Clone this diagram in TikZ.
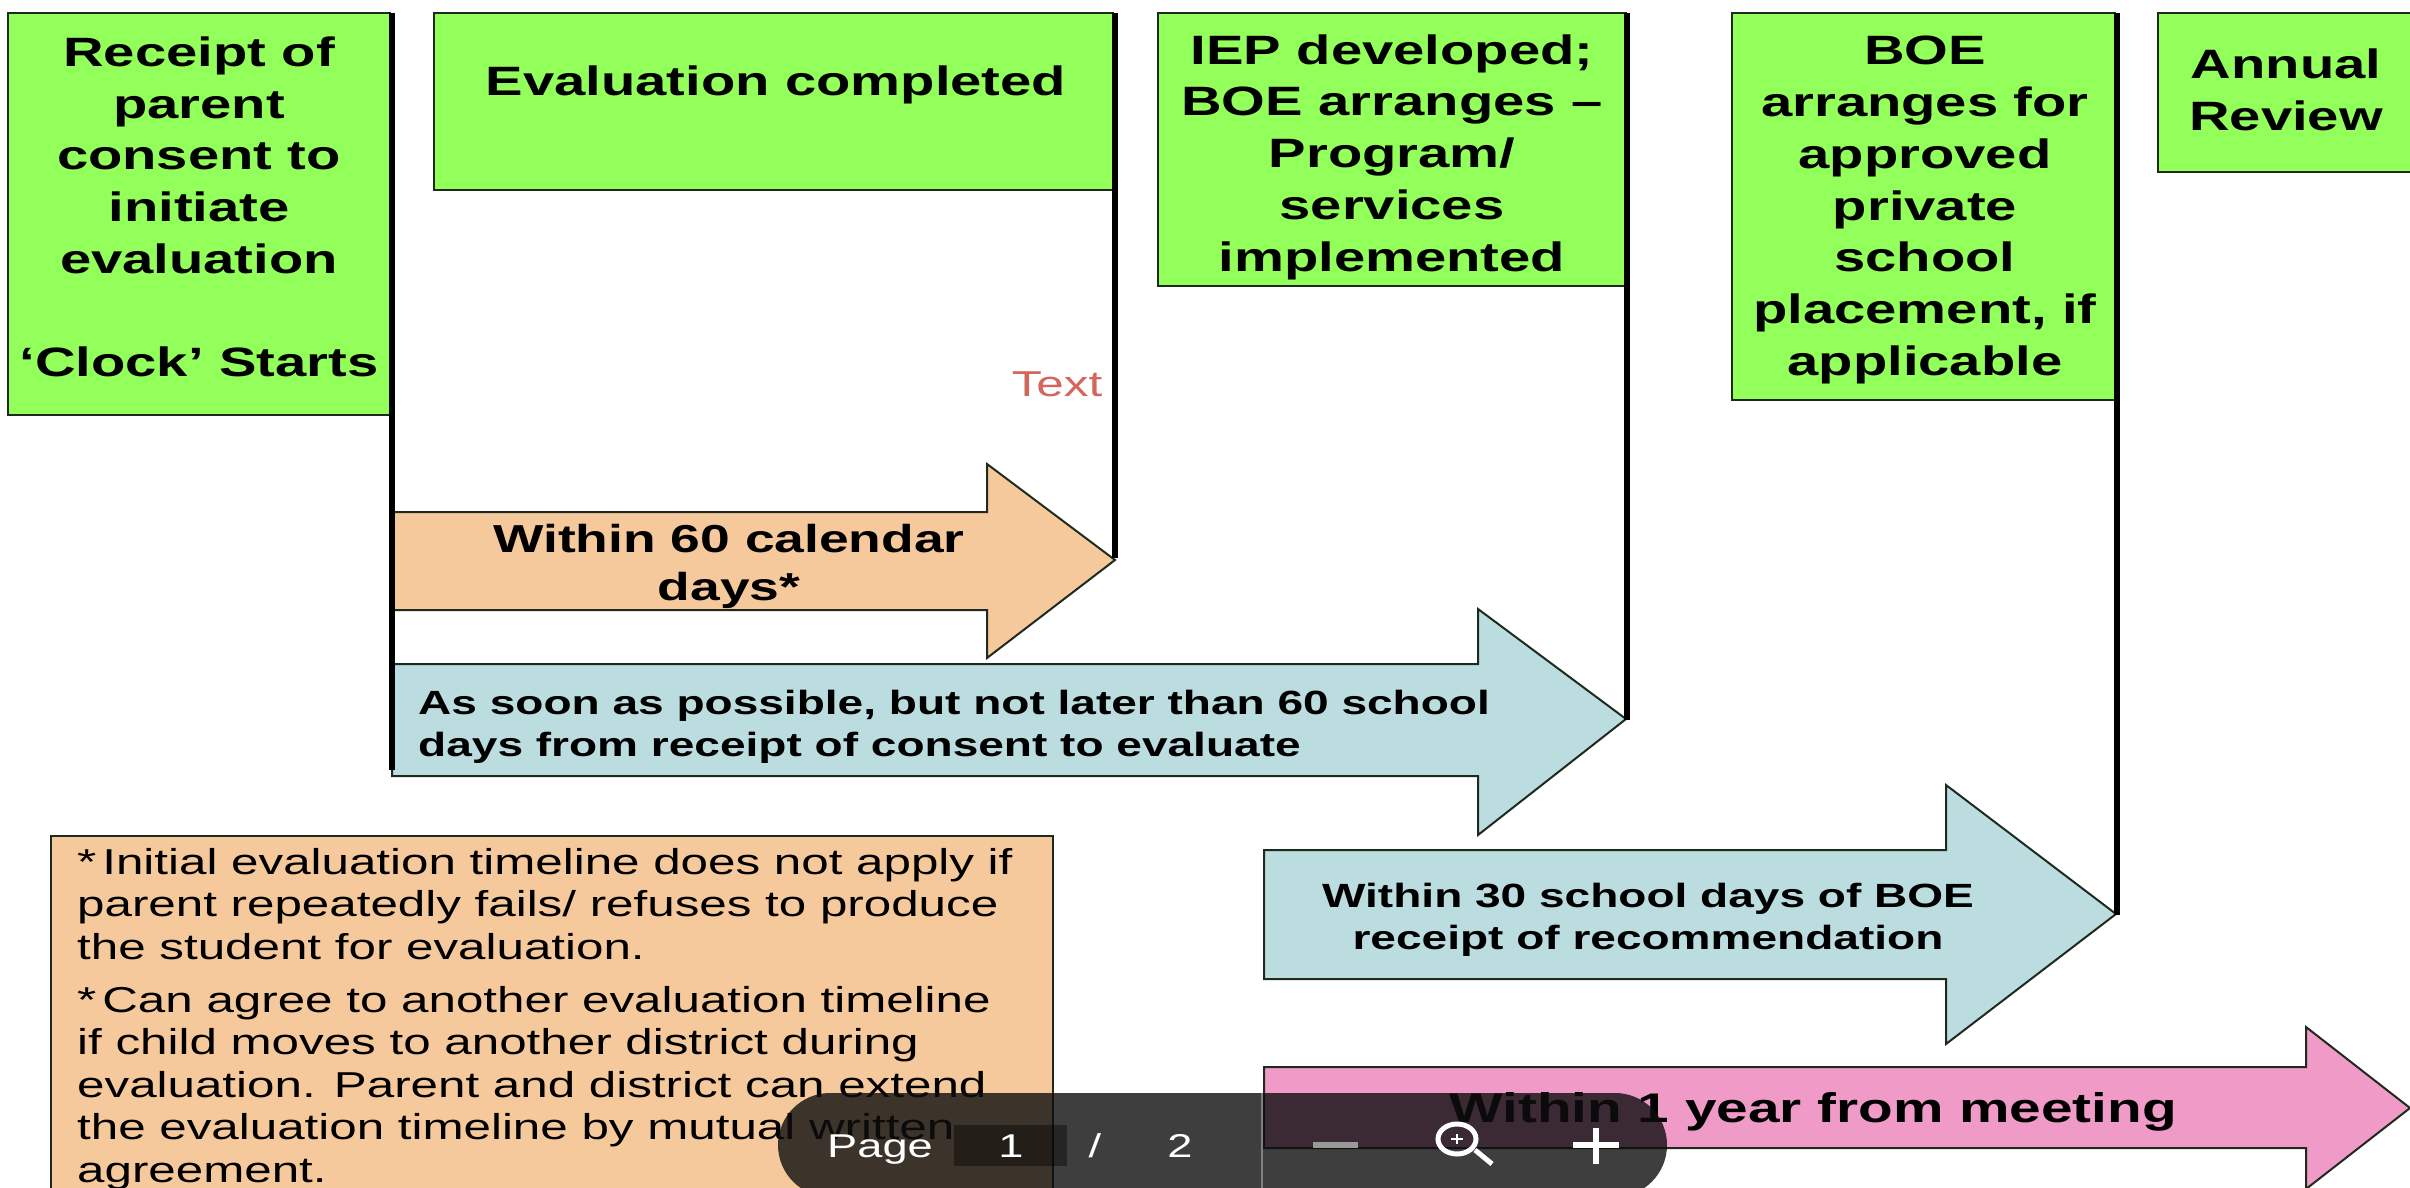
\documentclass[tikz,border=0pt]{standalone}
\usepackage{fontspec}
\setmainfont{Liberation Sans}
\newfontfamily\wideb[FakeStretch=1.37,BoldFont={Liberation Sans Bold}]{Liberation Sans}
\newcommand{\hd}{\wideb\bfseries\fontsize{41}{51.7}\selectfont}
\newcommand{\ha}{\wideb\bfseries\fontsize{39}{48}\selectfont}
\newcommand{\hb}{\wideb\bfseries\fontsize{41.4}{48}\selectfont}
\newcommand{\hs}{\wideb\bfseries\fontsize{33.6}{42}\selectfont}
\newcommand{\nt}{\wideb\fontsize{36}{42.6}\selectfont}
\definecolor{grn}{HTML}{93FF5B}
\definecolor{org}{HTML}{F5C99B}
\definecolor{blu}{HTML}{BCDDE0}
\definecolor{pnk}{HTML}{F09AC8}
\definecolor{edg}{HTML}{1E2A1E}
\definecolor{bar}{HTML}{0E0E0E}
\definecolor{redt}{HTML}{D4665C}
\tikzset{
  x=1pt,y=-1pt,
  boxg/.style={draw=edg,line width=2.5pt,fill=grn},
  post/.style={draw=black,line width=6pt},
  arr/.style={draw=edg,line width=2pt,line join=miter},
  lab/.style={inner sep=0pt,align=center,text=black},
  labl/.style={inner sep=0pt,align=left,anchor=west,text=black},
  tb/.style={inner sep=0pt,anchor=base,text=white,font=\wideb\fontsize{33}{36}\selectfont},
}
\begin{document}
\begin{tikzpicture}
\useasboundingbox (0,0) rectangle (2410,1188);
\clip (0,0) rectangle (2410,1188);
\fill[white] (0,0) rectangle (2410,1188);
% green boxes
\draw[boxg] (8,13) rectangle (390,415);
\draw[boxg] (434,13) rectangle (1113,190);
\draw[boxg] (1158,13) rectangle (1626,286);
\draw[boxg] (1732,13) rectangle (2115,400);
\draw[boxg] (2158,13) rectangle (2420,172);
% arrows
\draw[arr,fill=org] (393,512) -- (987,512) -- (987,464) -- (1115,560) -- (987,658) -- (987,610) -- (393,610);
\draw[arr,fill=blu] (392,664) -- (1478,664) -- (1478,609) -- (1626,719) -- (1478,835) -- (1478,776) -- (392,776) -- cycle;
\draw[arr,fill=blu] (1264,850) -- (1946,850) -- (1946,785) -- (2116,914) -- (1946,1044) -- (1946,979) -- (1264,979) -- cycle;
\draw[arr,fill=pnk] (1264,1067) -- (2306,1067) -- (2306,1027) -- (2410,1108) -- (2306,1189) -- (2306,1148) -- (1264,1148) -- cycle;
% posts
\draw[post] (392,13) -- (392,770);
\draw[post] (1115,13) -- (1115,558);
\draw[post] (1627,13) -- (1627,720);
\draw[post] (2117,13) -- (2117,915);
% notes box
\draw[draw=edg,line width=1.5pt,fill=org] (51,836) rectangle (1053,1200);
% texts
\node[lab,font=\hd] (t1) at (199,207) {Receipt of\\parent\\consent to\\initiate\\evaluation\\[51.7pt]‘Clock’ Starts};
\node[lab,font=\hd] (t2) at (776,85) {Evaluation completed};
\node[lab,font=\hd] (t3) at (1392,157) {IEP developed;\\BOE arranges –\\Program/\\services\\implemented};
\node[lab,font=\hd] (t4) at (1925,210) {BOE\\arranges for\\approved\\private\\school\\placement, if\\applicable};
\node[lab,font=\hd] (t5) at (2286,90) {Annual\\Review};
\node[text=redt,inner sep=0pt,font=\wideb\fontsize{36}{40}\selectfont] (t6) at (1057,384) {Text};
\node[lab,font=\ha] (a1) at (729,566) {Within 60 calendar\\days*};
\node[labl,font=\hs] (a2) at (418,727) {As soon as possible, but not later than 60 school\\days from receipt of consent to evaluate};
\node[lab,font=\hs] (a3) at (1648,920) {Within 30 school days of BOE\\receipt of recommendation};
\node[lab,font=\hb] (a4) at (1813,1112) {Within 1 year from meeting};
\node[labl,font=\nt] (n1) at (77,904) {*\,Initial evaluation timeline does not apply if\\parent repeatedly fails/ refuses to produce\\the student for evaluation.};
\node[labl,font=\nt] (n2) at (77,1088) {*\,Can agree to another evaluation timeline\\if child moves to another district during\\evaluation. Parent and district can extend\\the evaluation timeline by mutual written\\agreement.};
% viewer toolbar
\fill[bar,opacity=.8,rounded corners=52pt] (778,1093) rectangle (1667,1197);
\fill[black,opacity=.4] (954,1125) rectangle (1067,1166);
\draw[gray,line width=1.5pt] (1262,1093) -- (1262,1188);
\node[tb] (p1) at (880,1157) {Page};
\node[tb] (p2) at (1011,1157) {1};
\node[tb] (p3) at (1095,1157) {/};
\node[tb] (p4) at (1180,1157) {2};
\draw[gray!80,line width=6pt] (1313,1145) -- (1358,1145);
\draw[white,line width=5pt] (1457,1139) ellipse (19pt and 15pt);
\draw[white,line width=5pt] (1475,1150) -- (1492,1164);
\draw[white,line width=2.5pt] (1451,1139) -- (1463,1139) (1457,1134) -- (1457,1144);
\draw[white,line width=5.5pt] (1573,1145) -- (1619,1145) (1596,1128) -- (1596,1164);
\end{tikzpicture}
\end{document}
